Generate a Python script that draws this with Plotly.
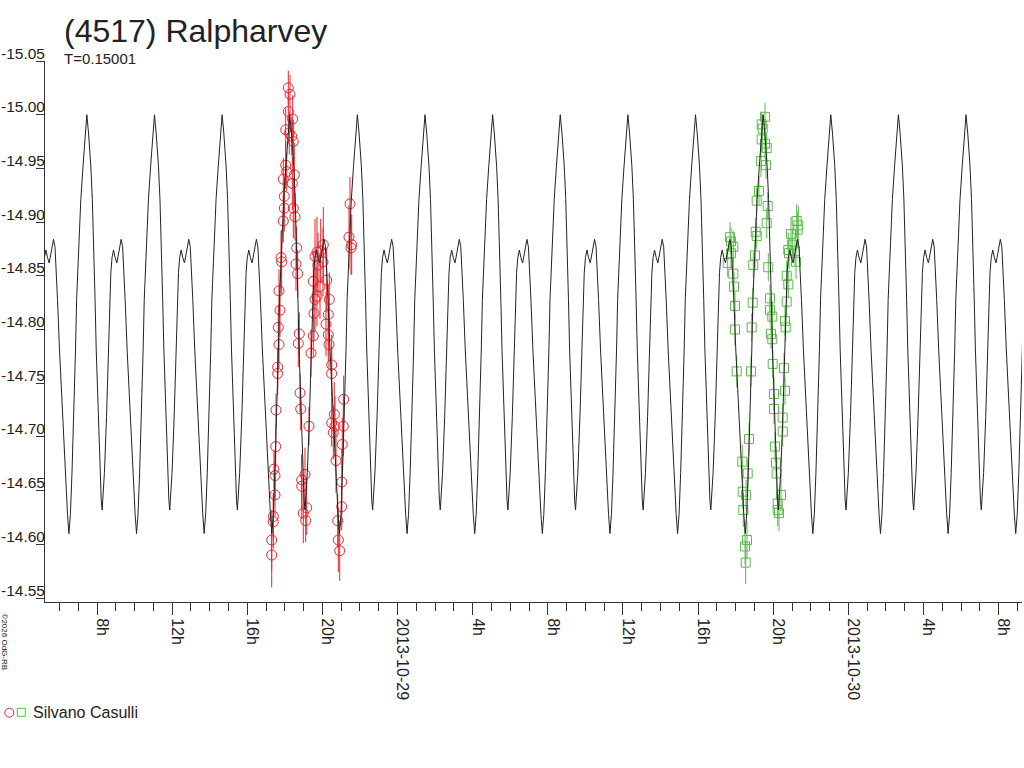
import pandas as pd
import plotly.graph_objects as go

TITLE = "(4517) Ralpharvey"
PERIOD_LABEL = "T=0.15001"
PERIOD_DAYS = 0.15001
OBSERVER = "Silvano Casulli"
COPYRIGHT = "©2026 OdG-RB"
BASE = pd.Timestamp("2013-10-28 00:00")

# one cycle of the model light curve: hours after a main maximum, magnitude
model_phase_h = [0.000, 0.090, 0.213, 0.293, 0.351, 0.399, 0.437, 0.500, 0.602, 0.703,
                 0.767, 0.814, 0.868, 0.937, 1.049, 1.150, 1.224, 1.278, 1.341, 1.421,
                 1.507, 1.597, 1.703, 1.826, 1.906, 1.986, 2.039, 2.145, 2.305, 2.449,
                 2.571, 2.646, 2.726, 2.811, 2.907, 2.997, 3.056, 3.114, 3.205, 3.279,
                 3.396, 3.508]
model_mag = [-15.000, -14.983, -14.952, -14.921, -14.890, -14.853, -14.828, -14.781, -14.719, -14.667,
             -14.641, -14.632, -14.644, -14.667, -14.719, -14.781, -14.828, -14.853, -14.867, -14.874,
             -14.867, -14.862, -14.872, -14.884, -14.877, -14.853, -14.828, -14.781, -14.719, -14.667,
             -14.628, -14.610, -14.628, -14.667, -14.719, -14.781, -14.828, -14.853, -14.890, -14.921,
             -14.952, -14.983]
model_epoch_h = 25.46          # hours after BASE of one main maximum
model_cycles = list(range(-6, 10))

# session 1 (red circles): hours after BASE, magnitude, error
red_h = [17.300, 17.300, 17.385, 17.390, 17.476, 17.476, 17.422, 17.513, 17.529, 17.619,
         17.620, 17.689, 17.651, 17.742, 17.689, 17.832, 17.795, 17.918, 17.971, 17.971,
         17.918, 18.098, 18.045, 18.045, 18.184, 18.184, 18.274, 18.237, 18.365, 18.418,
         18.450, 18.503, 18.397, 18.450, 18.540, 18.631, 18.594, 18.684, 18.769, 18.716,
         18.807, 18.844, 19.073, 18.897, 18.900, 19.163, 18.982, 19.110, 19.286, 19.392,
         19.515, 19.552, 19.605, 19.515, 19.605, 19.711, 19.908, 20.047, 19.871, 20.228,
         20.366, 20.313, 20.191, 20.313, 20.350, 20.494, 20.494, 20.632, 20.494, 20.670,
         20.579, 20.723, 20.813, 20.846, 20.920, 21.026, 21.030, 21.058, 21.112, 21.133,
         21.415, 21.559, 21.521, 21.468, 19.765, 20.031, 19.711]
red_mag = [-14.590, -14.604, -14.621, -14.626, -14.646, -14.664, -14.670, -14.691, -14.725, -14.759,
           -14.765, -14.786, -14.802, -14.818, -14.836, -14.863, -14.867, -14.901, -14.913, -14.924,
           -14.940, -14.947, -14.953, -14.986, -15.003, -15.025, -15.019, -14.983, -14.980, -14.996,
           -14.975, -14.944, -14.936, -14.913, -14.905, -14.876, -14.861, -14.852, -14.796, -14.787,
           -14.741, -14.726, -14.665, -14.660, -14.654, -14.634, -14.629, -14.622, -14.710, -14.778,
           -14.794, -14.815, -14.828, -14.845, -14.868, -14.872, -14.873, -14.879, -14.840, -14.846,
           -14.828, -14.814, -14.805, -14.795, -14.786, -14.767, -14.759, -14.721, -14.713, -14.710,
           -14.704, -14.678, -14.622, -14.604, -14.594, -14.635, -14.658, -14.693, -14.710, -14.735,
           -14.886, -14.879, -14.876, -14.917, -14.860, -14.863, -14.831]
red_err = [0.030, 0.028, 0.025, 0.022, 0.020, 0.022, 0.018, 0.020, 0.015, 0.020,
           0.018, 0.022, 0.020, 0.025, 0.020, 0.030, 0.025, 0.020, 0.022, 0.018,
           0.020, 0.018, 0.022, 0.020, 0.018, 0.016, 0.018, 0.020, 0.018, 0.022,
           0.020, 0.030, 0.025, 0.028, 0.022, 0.020, 0.025, 0.022, 0.020, 0.022,
           0.018, 0.020, 0.025, 0.022, 0.030, 0.025, 0.028, 0.020, 0.018, 0.022,
           0.020, 0.025, 0.030, 0.028, 0.035, 0.033, 0.030, 0.035, 0.030, 0.030,
           0.025, 0.028, 0.030, 0.025, 0.022, 0.028, 0.025, 0.030, 0.022, 0.028,
           0.025, 0.030, 0.025, 0.030, 0.028, 0.022, 0.030, 0.025, 0.028, 0.022,
           0.030, 0.028, 0.025, 0.025, 0.030, 0.032, 0.028]

# session 2 (green squares)
green_h = [43.560, 43.385, 43.438, 43.385, 43.560, 43.651, 43.347, 43.614, 43.241, 43.119,
           43.704, 43.651, 43.065, 43.119, 41.697, 41.750, 41.873, 41.750, 41.574, 43.028,
           42.938, 41.873, 43.736, 41.910, 41.963, 42.906, 43.826, 43.826, 43.949, 42.852,
           41.963, 45.248, 45.333, 45.301, 44.944, 45.014, 44.801, 44.838, 45.157, 45.211,
           44.715, 44.801, 44.715, 44.625, 44.662, 43.880, 43.949, 42.054, 42.815, 43.970,
           44.572, 44.039, 44.625, 44.039, 44.503, 44.503, 42.709, 44.093, 42.352, 44.146,
           42.639, 44.183, 42.374, 42.549, 44.412, 44.236, 42.405, 44.236, 44.306, 42.602,
           42.496, 42.533]
green_mag = [-14.998, -14.991, -14.987, -14.977, -14.973, -14.969, -14.957, -14.953, -14.929, -14.920,
             -14.915, -14.899, -14.891, -14.887, -14.886, -14.882, -14.877, -14.871, -14.862, -14.869,
             -14.860, -14.852, -14.858, -14.840, -14.822, -14.825, -14.829, -14.818, -14.812, -14.802,
             -14.800, -14.901, -14.897, -14.893, -14.889, -14.879, -14.874, -14.871, -14.873, -14.863,
             -14.850, -14.842, -14.826, -14.808, -14.802, -14.796, -14.791, -14.761, -14.761, -14.768,
             -14.764, -14.740, -14.743, -14.726, -14.718, -14.705, -14.698, -14.691, -14.677, -14.676,
             -14.666, -14.666, -14.649, -14.646, -14.646, -14.638, -14.632, -14.632, -14.629, -14.604,
             -14.598, -14.583]
green_err = [0.013, 0.012, 0.013, 0.012, 0.014, 0.013, 0.015, 0.013, 0.014, 0.012,
             0.013, 0.014, 0.013, 0.012, 0.014, 0.013, 0.015, 0.014, 0.013, 0.014,
             0.012, 0.015, 0.013, 0.014, 0.013, 0.014, 0.013, 0.012, 0.014, 0.013,
             0.015, 0.016, 0.018, 0.017, 0.016, 0.015, 0.016, 0.015, 0.014, 0.016,
             0.014, 0.013, 0.015, 0.014, 0.013, 0.014, 0.013, 0.015, 0.014, 0.013,
             0.014, 0.015, 0.013, 0.014, 0.013, 0.014, 0.015, 0.014, 0.016, 0.015,
             0.014, 0.015, 0.016, 0.014, 0.015, 0.014, 0.016, 0.015, 0.017, 0.018,
             0.017, 0.020]

y_tick_vals = [-15.05, -15.00, -14.95, -14.90, -14.85, -14.80, -14.75, -14.70, -14.65, -14.60, -14.55]
y_tick_text = ["-15.05", "-15.00", "-14.95", "-14.90", "-14.85", "-14.80", "-14.75", "-14.70",
               "-14.65", "-14.60", "-14.55"]
x_tick_times = ["2013-10-28 08:00", "2013-10-28 12:00", "2013-10-28 16:00", "2013-10-28 20:00",
                "2013-10-29 00:00", "2013-10-29 04:00", "2013-10-29 08:00", "2013-10-29 12:00",
                "2013-10-29 16:00", "2013-10-29 20:00", "2013-10-30 00:00", "2013-10-30 04:00",
                "2013-10-30 08:00"]
x_tick_text = ["8h", "12h", "16h", "20h", "2013-10-29", "4h", "8h", "12h", "16h", "20h",
               "2013-10-30", "4h", "8h"]
x_range = ["2013-10-28 05:13:54", "2013-10-30 09:14:30"]
y_range = [-14.5463, -15.05]

# ---------------------------------------------------------------- build
period_h = PERIOD_DAYS * 24.0
curve_h, curve_m = [], []
for k in model_cycles:
    for ph, mg in zip(model_phase_h, model_mag):
        curve_h.append(model_epoch_h + k * period_h + ph)
        curve_m.append(mg)


def to_time(hours):
    return BASE + pd.to_timedelta(hours, unit="h")


FONT = "Liberation Sans, Arial, sans-serif"
INK = "#222222"
RED = "#e8262d"
GREEN = "#5cbb4c"

W, H = 1024, 768
L, R, T, B = 45, 2, 61, 166
PW, PH = W - L - R, H - T - B


def px(x):
    return (x - L) / PW


def py(y):
    return (H - B - y) / PH


fig = go.Figure()
fig.add_trace(go.Scatter(
    x=to_time(red_h), y=red_mag, mode="markers",
    marker=dict(symbol="circle-open", size=10, color=RED, line=dict(width=1, color=RED)),
    error_y=dict(type="data", array=red_err, visible=True, color=RED, thickness=1, width=0),
    showlegend=False, hoverinfo="x+y"))
fig.add_trace(go.Scatter(
    x=to_time(green_h), y=green_mag, mode="markers",
    marker=dict(symbol="square-open", size=9, color=GREEN, line=dict(width=1, color=GREEN)),
    error_y=dict(type="data", array=green_err, visible=True, color=GREEN, thickness=1, width=0),
    showlegend=False, hoverinfo="x+y"))
fig.add_trace(go.Scatter(
    x=to_time(curve_h), y=curve_m, mode="lines",
    line=dict(color=INK, width=1), showlegend=False, hoverinfo="skip"))

fig.update_layout(
    template="none",
    width=W, height=H, autosize=False,
    margin=dict(l=L, r=R, t=T, b=B, pad=0),
    paper_bgcolor="white", plot_bgcolor="white",
    font=dict(family=FONT, size=16, color=INK),
    showlegend=False,
)
fig.update_xaxes(
    type="date", range=x_range, showgrid=False, zeroline=False, automargin=False,
    showline=True, linecolor="#333333", linewidth=1,
    tickmode="array", tickvals=x_tick_times, ticktext=x_tick_text,
    ticks="outside", ticklen=12, tickwidth=1, tickcolor="#333333",
    tickangle=90, tickfont=dict(family=FONT, size=16, color=INK),
    ticklabelshift=5,
    minor=dict(ticks="outside", ticklen=8, tickwidth=1, tickcolor="#333333",
               dtick=3600000, tick0="2013-10-28 00:00", showgrid=False),
)
fig.update_yaxes(
    range=y_range, showgrid=False, zeroline=False, automargin=False,
    showline=True, linecolor="#333333", linewidth=1,
    tickmode="array", tickvals=y_tick_vals, ticktext=y_tick_text,
    ticks="outside", ticklen=8, tickwidth=1, tickcolor="#333333",
    showticklabels=False,
)

# y tick labels sit on top of their tick marks, right-aligned to the axis
for v, t in zip(y_tick_vals, y_tick_text):
    fig.add_annotation(text=t, xref="paper", yref="y", x=px(46.5), y=v, yshift=8,
                       xanchor="right", yanchor="middle", showarrow=False,
                       font=dict(family=FONT, size=15.5, color=INK))

fig.add_annotation(text=TITLE, xref="paper", yref="paper", x=px(62), y=py(31),
                   xanchor="left", yanchor="middle", showarrow=False,
                   font=dict(family=FONT, size=32, color=INK))
fig.add_annotation(text=PERIOD_LABEL, xref="paper", yref="paper", x=px(62), y=py(58.5),
                   xanchor="left", yanchor="middle", showarrow=False,
                   font=dict(family=FONT, size=15, color=INK))
fig.add_annotation(text=OBSERVER, xref="paper", yref="paper", x=px(31), y=py(712.5),
                   xanchor="left", yanchor="middle", showarrow=False,
                   font=dict(family=FONT, size=16, color=INK))
fig.add_annotation(text=COPYRIGHT, xref="paper", yref="paper", x=px(4.5), y=py(642),
                   xanchor="center", yanchor="middle", showarrow=False, textangle=90,
                   font=dict(family=FONT, size=8, color="#111111"))

# legend symbols
fig.add_shape(type="circle", xref="paper", yref="paper", xsizemode="pixel", ysizemode="pixel",
              xanchor=px(9.3), yanchor=py(712.7), x0=-4.5, x1=4.5, y0=-4.5, y1=4.5,
              line=dict(color=RED, width=1))
fig.add_shape(type="rect", xref="paper", yref="paper", xsizemode="pixel", ysizemode="pixel",
              xanchor=px(21.3), yanchor=py(712.3), x0=-4, x1=4, y0=-4, y1=4,
              line=dict(color=GREEN, width=1))

fig.write_html("out.html", config={"displayModeBar": False},
               post_script="document.body.style.margin='0px';document.body.style.overflow='hidden';")
